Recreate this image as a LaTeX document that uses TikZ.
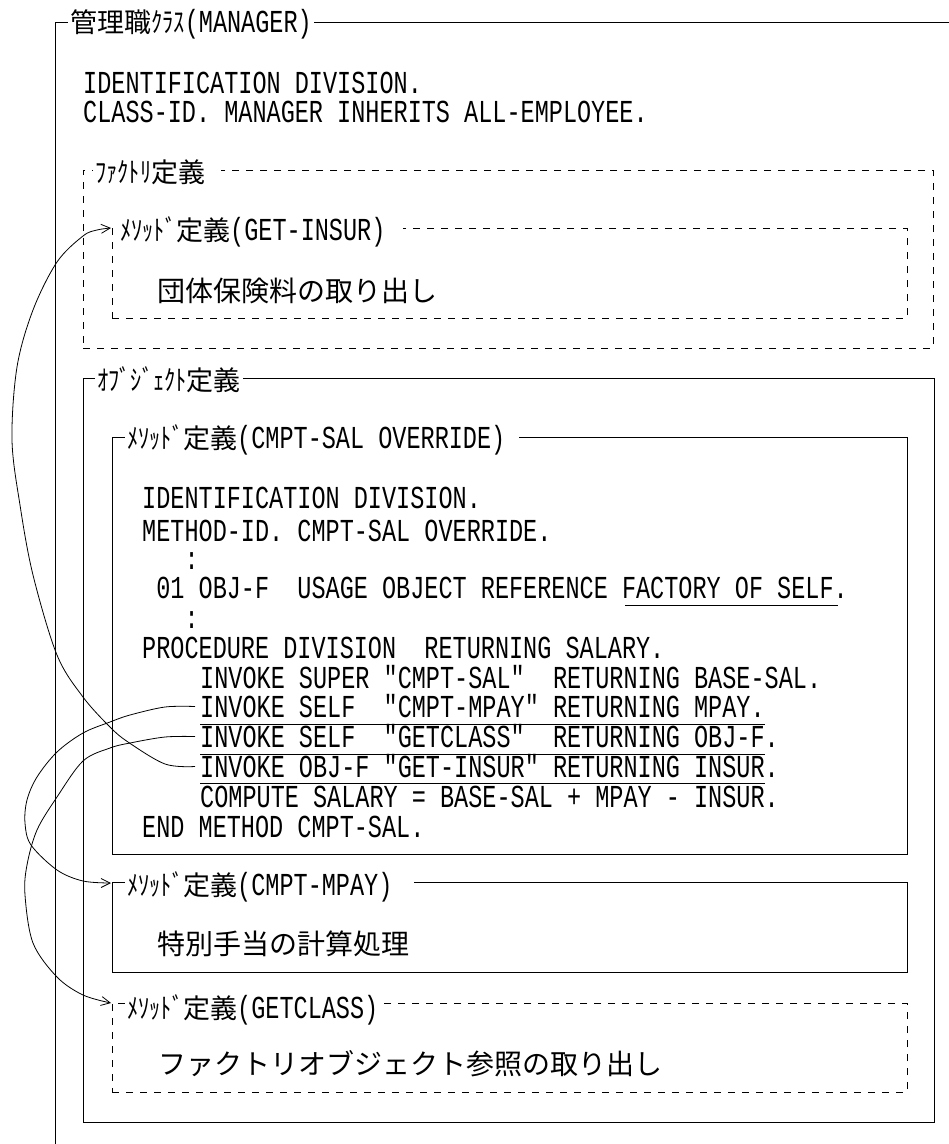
\documentclass[tikz,border=0pt]{standalone}
\usepackage{fontspec}
\usetikzlibrary{arrows.meta}
\newfontfamily\cobol[FakeStretch=0.735]{Liberation Mono}
\newfontfamily\jpfont{Noto Sans CJK JP}
\newfontfamily\jpkana[FakeStretch=0.8]{Noto Sans CJK JP}
\newcommand\tkana[1]{{\jpkana\fontsize{28}{28}\selectfont #1}}
\newcommand\tkanji[1]{{\jpfont\fontsize{27}{27}\selectfont #1}}
\newcommand\tlat[1]{{\cobol\fontsize{32}{32}\selectfont #1}}
\begin{document}
\begin{tikzpicture}[x=1pt,y=-1pt,
  cobolline/.style={anchor=base west, inner sep=0pt, font=\cobol\fontsize{32}{32}\selectfont},
  dotsline/.style={cobolline, text height=16pt, text depth=0pt},
  jptext/.style={anchor=west, inner sep=0pt, font=\jpfont\fontsize{28}{28}\selectfont},
  boxsolid/.style={draw, line width=1pt, anchor=north west, inner sep=0pt, outer sep=0pt},
  boxdash/.style={boxsolid, dash pattern=on 7pt off 7pt},
  titlebox/.style={anchor=west, fill=white, inner ysep=1pt, inner xsep=2pt},
  callarrow/.style={line width=0.8pt, -{Straight Barb[length=9pt,width=9pt]}},
  uline/.style={line width=1pt}]
\useasboundingbox (0,0) rectangle (949,1144);

% outer class frame
\coordinate (oBL) at (55,1144);
\coordinate (oTL) at (55,22);
\coordinate (oTR) at (949,22);
\draw[line width=1pt] (oBL) -- (oTL) -- (oTR);

% boxes
\node[boxdash, minimum width=850pt, minimum height=178pt] (factory) at (83,170) {};
\node[boxdash, minimum width=795pt, minimum height=90pt] (getinsur) at (112,228) {};
\node[boxsolid, minimum width=851pt, minimum height=744pt] (objdef) at (83,378) {};
\node[boxsolid, minimum width=795pt, minimum height=417pt] (cmptsal) at (112,437) {};
\node[boxsolid, minimum width=795pt, minimum height=90pt] (cmptmpay) at (112,882) {};
\node[boxdash, minimum width=795pt, minimum height=89pt] (getclass) at (112,1003) {};

% titles
\node[titlebox] (tmgr) at (68,24) {\tkanji{管理職}\tkana{ｸﾗｽ}\tlat{(MANAGER)}};
\node[titlebox] (tfac) at (93,172) {\tkana{ﾌｧｸﾄﾘ}\tkanji{定義}\kern14pt};
\node[titlebox] (tgetinsur) at (118,232) {\tkana{ﾒｿｯﾄﾞ}\tkanji{定義}\tlat{(GET-INSUR)}\kern16pt};
\node[titlebox] (tobj) at (95,380) {\tkana{ｵﾌﾞｼﾞｪｸﾄ}\tkanji{定義}};
\node[titlebox] (tcmptsal) at (125,440) {\tkana{ﾒｿｯﾄﾞ}\tkanji{定義}\tlat{(CMPT-SAL~OVERRIDE)}\kern12pt};
\node[titlebox] (tcmptmpay) at (125,887) {\tkana{ﾒｿｯﾄﾞ}\tkanji{定義}\tlat{(CMPT-MPAY)}\kern20pt};
\node[titlebox] (tgetclass) at (125,1010) {\tkana{ﾒｿｯﾄﾞ}\tkanji{定義}\tlat{(GETCLASS)}};

% class header code
\node[cobolline] (cident) at (83,93) {IDENTIFICATION~DIVISION.};
\node[cobolline] (cclass) at (83,122) {CLASS-ID.~MANAGER~INHERITS~ALL-EMPLOYEE.};

% contents of simple methods
\node[jptext] (insurtxt) at (157,291) {団体保険料の取り出し};
\node[jptext] (mpaytxt) at (157,944) {特別手当の計算処理};
\node[jptext] (classtxt) at (158,1064) {ファクトリオブジェクト参照の取り出し};

% CMPT-SAL code
\node[cobolline] (mident) at (142,508) {IDENTIFICATION~DIVISION.};
\node[cobolline] (mid) at (142,541) {METHOD-ID.~CMPT-SAL~OVERRIDE.};
\node[dotsline] (dotsa) at (142,569) {~~~:};
\node[cobolline] (objf) at (142,598) {~01~OBJ-F~~USAGE~OBJECT~REFERENCE~FACTORY~OF~SELF.};
\node[dotsline] (dotsb) at (142,628) {~~~:};
\node[cobolline] (proc) at (142,658) {PROCEDURE~DIVISION~~RETURNING~SALARY.};
\node[cobolline] (inva) at (200,688) {INVOKE~SUPER~"CMPT-SAL"~~RETURNING~BASE-SAL.};
\node[cobolline] (invb) at (200,717) {INVOKE~SELF~~"CMPT-MPAY"~RETURNING~MPAY.};
\node[cobolline] (invc) at (200,747) {INVOKE~SELF~~"GETCLASS"~~RETURNING~OBJ-F.};
\node[cobolline] (invd) at (200,777) {INVOKE~OBJ-F~"GET-INSUR"~RETURNING~INSUR.};
\node[cobolline] (comp) at (200,807) {COMPUTE~SALARY~=~BASE-SAL~+~MPAY~-~INSUR.};
\node[cobolline] (endm) at (142,837) {END~METHOD~CMPT-SAL.};

% underlines
\draw[uline] ([xshift=483pt,yshift=-7pt]objf.base west) -- ++(213,0);
\draw[uline] ([yshift=-7pt]invb.base west) -- ++(565,0);
\draw[uline] ([yshift=-7pt]invc.base west) -- ++(565,0);
\draw[uline] ([yshift=-6pt]invd.base west) -- ++(565,0);

% call connectors
\coordinate (sa) at ([xshift=-5pt,yshift=10.5pt]invd.base west);
\coordinate (sb) at ([xshift=-5pt,yshift=10.5pt]invb.base west);
\coordinate (sc) at ([xshift=-5pt,yshift=10.5pt]invc.base west);
\coordinate (ea) at ([xshift=-1pt]getinsur.north west);
\coordinate (eb) at ([xshift=-1pt,yshift=-1pt]cmptmpay.north west);
\coordinate (ec) at ([xshift=-1pt]getclass.north west);

\draw[callarrow] plot[smooth, tension=0.55] coordinates {(sa) (165,764) (128,742) (110,727) (83,697) (57,655) (33,575) (20,505) (12,440) (17,367) (33,310) (57,262) (83,236) (97,230) (ea)};
\draw[callarrow] plot[smooth, tension=0.55] coordinates {(sb) (165,707) (130,715) (110,722) (83,733) (57,752) (37,777) (27,800) (25,823) (31,845) (57,870) (83,881) (eb)};
\draw[callarrow] plot[smooth, tension=0.55] coordinates {(sc) (165,737) (130,743) (110,748) (83,761) (57,797) (37,830) (27,865) (25,895) (33,943) (57,977) (83,995) (ec)};
\end{tikzpicture}
\end{document}
